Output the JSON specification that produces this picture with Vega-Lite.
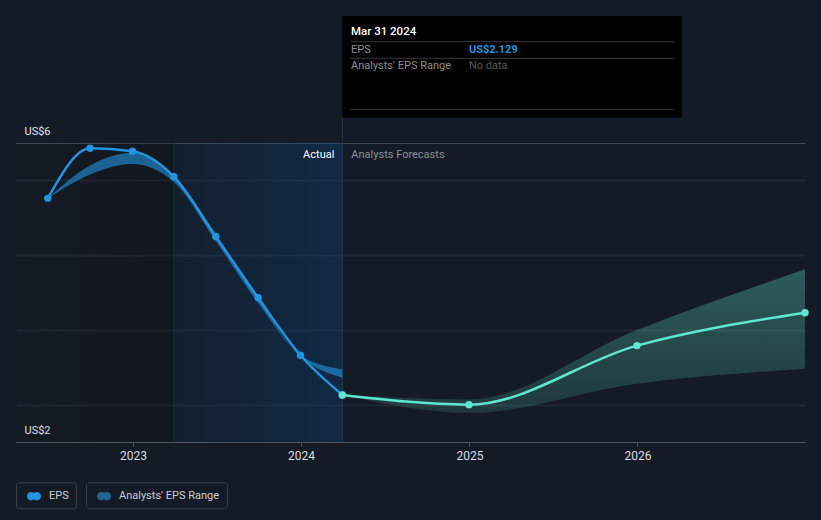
{
  "$schema": "https://vega.github.io/schema/vega-lite/v6.json",
  "width": 789,
  "height": 426,
  "autosize": {"type": "none"},
  "padding": {"left": 16, "top": 16, "right": 16, "bottom": 78},
  "background": "#151b26",
  "config": {
    "view": {"stroke": null},
    "font": "Roboto",
    "text": {"font": "Roboto"}
  },
  "datasets": {
    "past": [
      {"date": "2022-06-30", "value": 4.76},
      {"date": "2022-09-30", "value": 5.43},
      {"date": "2022-12-31", "value": 5.39},
      {"date": "2023-03-31", "value": 5.05},
      {"date": "2023-06-30", "value": 4.25},
      {"date": "2023-09-30", "value": 3.43},
      {"date": "2023-12-31", "value": 2.66},
      {"date": "2024-03-31", "value": 2.129}
    ],
    "forecast": [
      {"date": "2024-03-31", "value": 2.129},
      {"date": "2024-12-31", "value": 2.0},
      {"date": "2025-12-31", "value": 2.79},
      {"date": "2026-12-31", "value": 3.23}
    ],
    "pastRange": [
      {"date": "2022-06-30", "value": 4.76, "value2": 4.76},
      {"date": "2022-09-30", "value": 5.2, "value2": 5.08},
      {"date": "2022-12-31", "value": 5.37, "value2": 5.22},
      {"date": "2023-03-31", "value": 5.05, "value2": 4.98},
      {"date": "2023-06-30", "value": 4.24, "value2": 4.19},
      {"date": "2023-09-30", "value": 3.42, "value2": 3.36},
      {"date": "2023-12-31", "value": 2.66, "value2": 2.64},
      {"date": "2024-03-31", "value": 2.47, "value2": 2.36}
    ],
    "forecastRange": [
      {"date": "2024-03-31", "value": 2.129, "value2": 2.129},
      {"date": "2024-12-31", "value": 2.07, "value2": 1.89},
      {"date": "2025-12-31", "value": 3.0, "value2": 2.28},
      {"date": "2026-12-31", "value": 3.81, "value2": 2.48}
    ]
  },
  "encoding": {
    "x": {
      "field": "date",
      "type": "temporal",
      "title": null,
      "scale": {
        "type": "utc",
        "domain": [
          {"year": 2022, "month": 4, "date": 22, "utc": true},
          {"year": 2026, "month": 12, "date": 31, "utc": true}
        ]
      },
      "axis": {
        "values": [
          {"year": 2023, "month": 1, "date": 1, "utc": true},
          {"year": 2024, "month": 1, "date": 1, "utc": true},
          {"year": 2025, "month": 1, "date": 1, "utc": true},
          {"year": 2026, "month": 1, "date": 1, "utc": true}
        ],
        "labelExpr": "utcFormat(datum.value, '%Y')",
        "grid": false,
        "domainColor": "#4f545d",
        "domainWidth": 1,
        "tickColor": "#4f545d",
        "tickSize": 4,
        "labelPadding": 4,
        "labelFontSize": 12,
        "labelFont": "Roboto",
        "labelColor": "#d8dbe0",
        "labelFlush": false,
        "labelOverlap": false
      }
    },
    "y": {
      "field": "value",
      "type": "quantitative",
      "title": null,
      "scale": {"domain": [1.5, 7.2], "nice": false, "zero": false},
      "axis": {
        "values": [1.5, 2, 3, 4, 5, 5.5],
        "labelExpr": "datum.value == 5.5 ? 'US$6' : datum.value == 1.5 ? 'US$2' : ''",
        "domain": false,
        "ticks": false,
        "tickSize": 0,
        "labelAlign": "left",
        "labelPadding": -8,
        "labelBaseline": "alphabetic",
        "labelOffset": -8.5,
        "labelFontSize": 11,
        "labelFont": "Roboto",
        "labelColor": "#e2e5e9",
        "labelFlush": false,
        "labelOverlap": false,
        "gridColor": {"condition": {"test": "datum.value == 5.5 || datum.value == 1.5", "value": "#464b54"}, "value": "#222833"},
        "gridWidth": {"condition": {"test": "datum.value == 5.5 || datum.value == 1.5", "value": 1}, "value": 2}
      }
    }
  },
  "layer": [
    {
      "data": {"values": [{"date": "2022-04-22", "date2": "2023-03-31", "value": 1.5, "value2": 5.5}]},
      "mark": {"type": "rect", "fill": {"gradient": "linear", "x1": 0, "y1": 0, "x2": 1, "y2": 0, "stops": [{"offset": 0, "color": "rgba(8,9,12,0)"}, {"offset": 0.75, "color": "rgba(8,9,12,0.2)"}, {"offset": 1, "color": "rgba(8,9,12,0.22)"}]}},
      "encoding": {"x2": {"field": "date2"}, "y2": {"field": "value2"}}
    },
    {
      "data": {"values": [{"date": "2023-03-31", "date2": "2024-03-31", "value": 1.5, "value2": 5.5}]},
      "mark": {"type": "rect", "fill": {"gradient": "linear", "x1": 0, "y1": 0, "x2": 1, "y2": 0, "stops": [{"offset": 0, "color": "rgba(10,62,112,0.1)"}, {"offset": 1, "color": "rgba(10,62,112,0.42)"}]}},
      "encoding": {"x2": {"field": "date2"}, "y2": {"field": "value2"}}
    },
    {
      "data": {"values": [{"date": "2023-03-31", "value": 1.5, "value2": 5.5}]},
      "mark": {"type": "rule", "color": "#1a2d40", "strokeWidth": 1},
      "encoding": {"y2": {"field": "value2"}}
    },
    {
      "data": {"values": [{"date": "2024-03-31", "value": 1.5, "value2": 5.842}]},
      "mark": {"type": "rule", "color": "#1c3a56", "strokeWidth": 1},
      "encoding": {"y2": {"field": "value2"}}
    },
    {
      "data": {"name": "pastRange"},
      "mark": {"type": "area", "interpolate": "monotone", "color": "#2394df", "opacity": 0.6},
      "encoding": {"y2": {"field": "value2"}}
    },
    {
      "data": {"name": "forecastRange"},
      "mark": {"type": "area", "interpolate": "monotone", "fill": {"gradient": "linear", "x1": 0, "y1": 0, "x2": 0, "y2": 1, "stops": [{"offset": 0, "color": "rgba(94,230,210,0.32)"}, {"offset": 1, "color": "rgba(94,230,210,0.14)"}]}},
      "encoding": {"y2": {"field": "value2"}}
    },
    {
      "data": {"name": "past"},
      "mark": {"type": "line", "interpolate": "monotone", "color": "#2394df", "strokeWidth": 2.5},
      "encoding": {}
    },
    {
      "data": {"name": "forecast"},
      "mark": {"type": "line", "interpolate": "monotone", "color": "#5ee6d2", "strokeWidth": 2.5},
      "encoding": {}
    },
    {
      "data": {"name": "past"},
      "transform": [{"filter": "datum.date != '2024-03-31'"}],
      "mark": {"type": "point", "filled": true, "size": 55, "color": "#2394df", "opacity": 1},
      "encoding": {}
    },
    {
      "data": {"name": "forecast"},
      "transform": [{"filter": "datum.date != '2024-03-31'"}],
      "mark": {"type": "point", "filled": true, "size": 55, "color": "#5ee6d2", "opacity": 1},
      "encoding": {}
    },
    {
      "data": {"name": "past"},
      "transform": [{"filter": "datum.date == '2024-03-31'"}],
      "mark": {"type": "point", "filled": true, "size": 55, "fill": "#2394df", "stroke": "#ffffff", "strokeWidth": 1.3, "opacity": 1},
      "encoding": {}
    },
    {
      "data": {"values": [{"date": "2024-03-31", "value": 5.304, "label": "Actual"}]},
      "mark": {"type": "text", "align": "right", "baseline": "alphabetic", "dx": -8, "fontSize": 11, "color": "#ffffff"},
      "encoding": {"text": {"field": "label"}}
    },
    {
      "data": {"values": [{"date": "2024-03-31", "value": 5.304, "label": "Analysts Forecasts"}]},
      "mark": {"type": "text", "align": "left", "baseline": "alphabetic", "dx": 9, "fontSize": 11, "color": "#8a8f97"},
      "encoding": {"text": {"field": "label"}}
    },
    {
      "data": {"values": [{"date": "2024-03-31", "date2": "2026-04-08", "value": 5.842, "value2": 7.2}]},
      "mark": {"type": "rect", "fill": "#000000"},
      "encoding": {"x2": {"field": "date2"}, "y2": {"field": "value2"}}
    },
    {
      "data": {"values": [
        {"date": "2024-04-18", "date2": "2026-03-23", "value": 6.856},
        {"date": "2024-04-18", "date2": "2026-03-23", "value": 6.634},
        {"date": "2024-04-18", "date2": "2026-03-23", "value": 5.951}
      ]},
      "mark": {"type": "rule", "color": "#3a3a3a", "strokeWidth": 1},
      "encoding": {"x2": {"field": "date2"}}
    },
    {
      "data": {"values": [{"date": "2024-03-31", "value": 6.946, "label": "Mar 31 2024"}]},
      "mark": {"type": "text", "align": "left", "baseline": "alphabetic", "dx": 8.6, "fontSize": 11.5, "fontWeight": 500, "color": "#ffffff"},
      "encoding": {"text": {"field": "label"}}
    },
    {
      "data": {"values": [
        {"date": "2024-03-31", "value": 6.709, "label": "EPS"},
        {"date": "2024-03-31", "value": 6.487, "label": "Analysts' EPS Range"}
      ]},
      "mark": {"type": "text", "align": "left", "baseline": "alphabetic", "dx": 8.6, "fontSize": 11, "color": "#8e8e8e"},
      "encoding": {"text": {"field": "label"}}
    },
    {
      "data": {"values": [{"date": "2024-03-31", "value": 6.709, "label": "US$2.129"}]},
      "mark": {"type": "text", "align": "left", "baseline": "alphabetic", "dx": 126.6, "fontSize": 11, "fontWeight": "bold", "color": "#2394df"},
      "encoding": {"text": {"field": "label"}}
    },
    {
      "data": {"values": [{"date": "2024-03-31", "value": 6.487, "label": "No data"}]},
      "mark": {"type": "text", "align": "left", "baseline": "alphabetic", "dx": 126.6, "fontSize": 11, "color": "#5a5a5a"},
      "encoding": {"text": {"field": "label"}}
    },
    {
      "data": {"values": [{"series": "EPS"}]},
      "mark": {"type": "point", "filled": true, "opacity": 0},
      "encoding": {
        "color": {
          "field": "series",
          "type": "nominal",
          "scale": {"domain": ["EPS"], "range": ["#2394df"]},
          "legend": {
            "title": null,
            "orient": "none",
            "legendX": 0,
            "legendY": 466.3,
            "symbolType": "M -1 0 A 0.6 0.6 0 1 0 0.2 0 A 0.6 0.6 0 1 0 -1 0 Z M -0.2 0 A 0.6 0.6 0 1 0 1 0 A 0.6 0.6 0 1 0 -0.2 0 Z",
            "symbolSize": 196,
            "symbolStrokeWidth": 0,
            "symbolOpacity": 1,
            "symbolOffset": 4,
            "labelOffset": 8,
            "labelFontSize": 11,
            "labelFont": "Roboto",
            "labelColor": "#c9ccd1",
            "padding": 7,
            "strokeColor": "#3b404a",
            "cornerRadius": 3
          }
        }
      }
    },
    {
      "data": {"values": [{"range": "Analysts' EPS Range"}]},
      "mark": {"type": "point", "filled": true, "opacity": 0},
      "encoding": {
        "fill": {
          "field": "range",
          "type": "nominal",
          "scale": {"domain": ["Analysts' EPS Range"], "range": ["#25628f"]},
          "legend": {
            "title": null,
            "orient": "none",
            "legendX": 70,
            "legendY": 466.3,
            "symbolType": "M -1 0 A 0.6 0.6 0 1 0 0.2 0 A 0.6 0.6 0 1 0 -1 0 Z M -0.2 0 A 0.6 0.6 0 1 0 1 0 A 0.6 0.6 0 1 0 -0.2 0 Z",
            "symbolSize": 196,
            "symbolStrokeWidth": 0,
            "symbolOpacity": 1,
            "symbolOffset": 4,
            "labelOffset": 8,
            "labelFontSize": 11,
            "labelFont": "Roboto",
            "labelColor": "#c9ccd1",
            "padding": 7,
            "strokeColor": "#3b404a",
            "cornerRadius": 3
          }
        }
      }
    }
  ]
}
